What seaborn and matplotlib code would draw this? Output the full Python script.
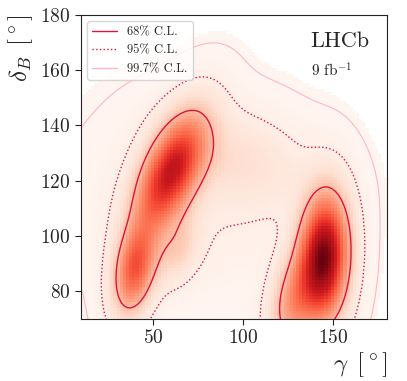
import numpy as np
import matplotlib
matplotlib.use("Agg")
import matplotlib.pyplot as plt
import seaborn as sns

# Likelihood in (gamma, delta_B), built as a mixture of a few correlated
# gaussian components
comp_gamma = [60.0, 40.0, 145.0, 128.0, 98.0, 72.0, 64.0]    # centres in gamma [deg]
comp_delta = [123.0, 88.0, 92.0, 76.0, 128.0, 111.0, 95.0]   # centres in delta_B [deg]
comp_sgam = [13.0, 8.0, 9.0, 9.0, 26.0, 35.0, 8.0]           # widths in gamma
comp_sdel = [14.0, 11.0, 15.0, 12.0, 12.0, 19.0, 8.0]        # widths in delta_B
comp_rho = [0.55, 0.3, 0.1, 0.3, -0.3, 0.0, 0.3]             # correlations
comp_weight = [1.0, 0.4, 1.15, 0.3, 0.28, 0.25, 0.08]        # relative weights

cl_labels = ["68% C.L.", "95% C.L.", "99.7% C.L."]
cl_values = [0.68, 0.95, 0.997]
cl_colors = ["#dc143c", "#dc143c", "#ffb6c1"]
cl_styles = ["-", ":", "-"]

x_edges = np.arange(0.0, 184.0, 1.75)
y_edges = np.arange(30.0, 195.0, 1.1)
xc = 0.5 * (x_edges[1:] + x_edges[:-1])
yc = 0.5 * (y_edges[1:] + y_edges[:-1])
GX, GY = np.meshgrid(xc, yc)

dens = np.zeros_like(GX)
for mx, my, sx, sy, r, w in zip(comp_gamma, comp_delta, comp_sgam, comp_sdel, comp_rho, comp_weight):
    dx = (GX - mx) / sx
    dy = (GY - my) / sy
    q = (dx**2 - 2 * r * dx * dy + dy**2) / (1 - r**2)
    dens += w * np.exp(-0.5 * q) / (2 * np.pi * sx * sy * np.sqrt(1 - r**2))


def hpd_level(p, frac):
    # density value enclosing `frac` of the total probability
    s = np.sort(p.ravel())[::-1]
    c = np.cumsum(s) / s.sum()
    return s[np.searchsorted(c, frac)]


levels = [hpd_level(dens, f) for f in cl_values]
thresh = hpd_level(dens, 0.999)

sns.set_style("ticks")
plt.rcParams["font.family"] = "serif"
plt.rcParams["font.serif"] = ["cmr10"]
plt.rcParams["mathtext.fontset"] = "cm"
plt.rcParams["axes.formatter.use_mathtext"] = True

fig = plt.figure(figsize=(4.07, 3.81), dpi=100)
ax = fig.add_axes([0.199, 0.163, 0.752, 0.798])

sns.histplot(x=GX.ravel(), y=GY.ravel(), weights=dens.ravel(),
             bins=[x_edges, y_edges], thresh=thresh, cmap="Reds",
             vmin=0, vmax=dens.max(), ax=ax)

# contours must be drawn with increasing levels
order = [2, 1, 0]
ax.contour(xc, yc, dens, levels=[levels[i] for i in order],
           colors=[cl_colors[i] for i in order],
           linestyles=[cl_styles[i] for i in order],
           linewidths=[0.8, 1.0, 1.0])

for lab, col, ls in zip(cl_labels, cl_colors, cl_styles):
    ax.plot([], [], color=col, ls=ls, lw=1.0, label=lab)
ax.legend(loc="upper left", fontsize=9)

ax.text(0.75, 0.945, "LHCb", transform=ax.transAxes, fontsize=16, va="top")
ax.text(0.75, 0.845, r"9 fb$^{-1}$", transform=ax.transAxes, fontsize=11, va="top")

ax.set_xlim(10, 180)
ax.set_ylim(70, 180)
ax.set_xticks([50, 100, 150])
ax.set_yticks([80, 100, 120, 140, 160, 180])
ax.tick_params(labelsize=14, length=4, color="#222222")
ax.set_xlabel(r"$\gamma\ \,[^\circ]$", fontsize=18, loc="right", labelpad=2)
ax.set_ylabel(r"$\delta_B\ \,[^\circ]$", fontsize=18, loc="top")
for s in ax.spines.values():
    s.set_color("#222222")

fig.savefig("out.png", dpi=100)
